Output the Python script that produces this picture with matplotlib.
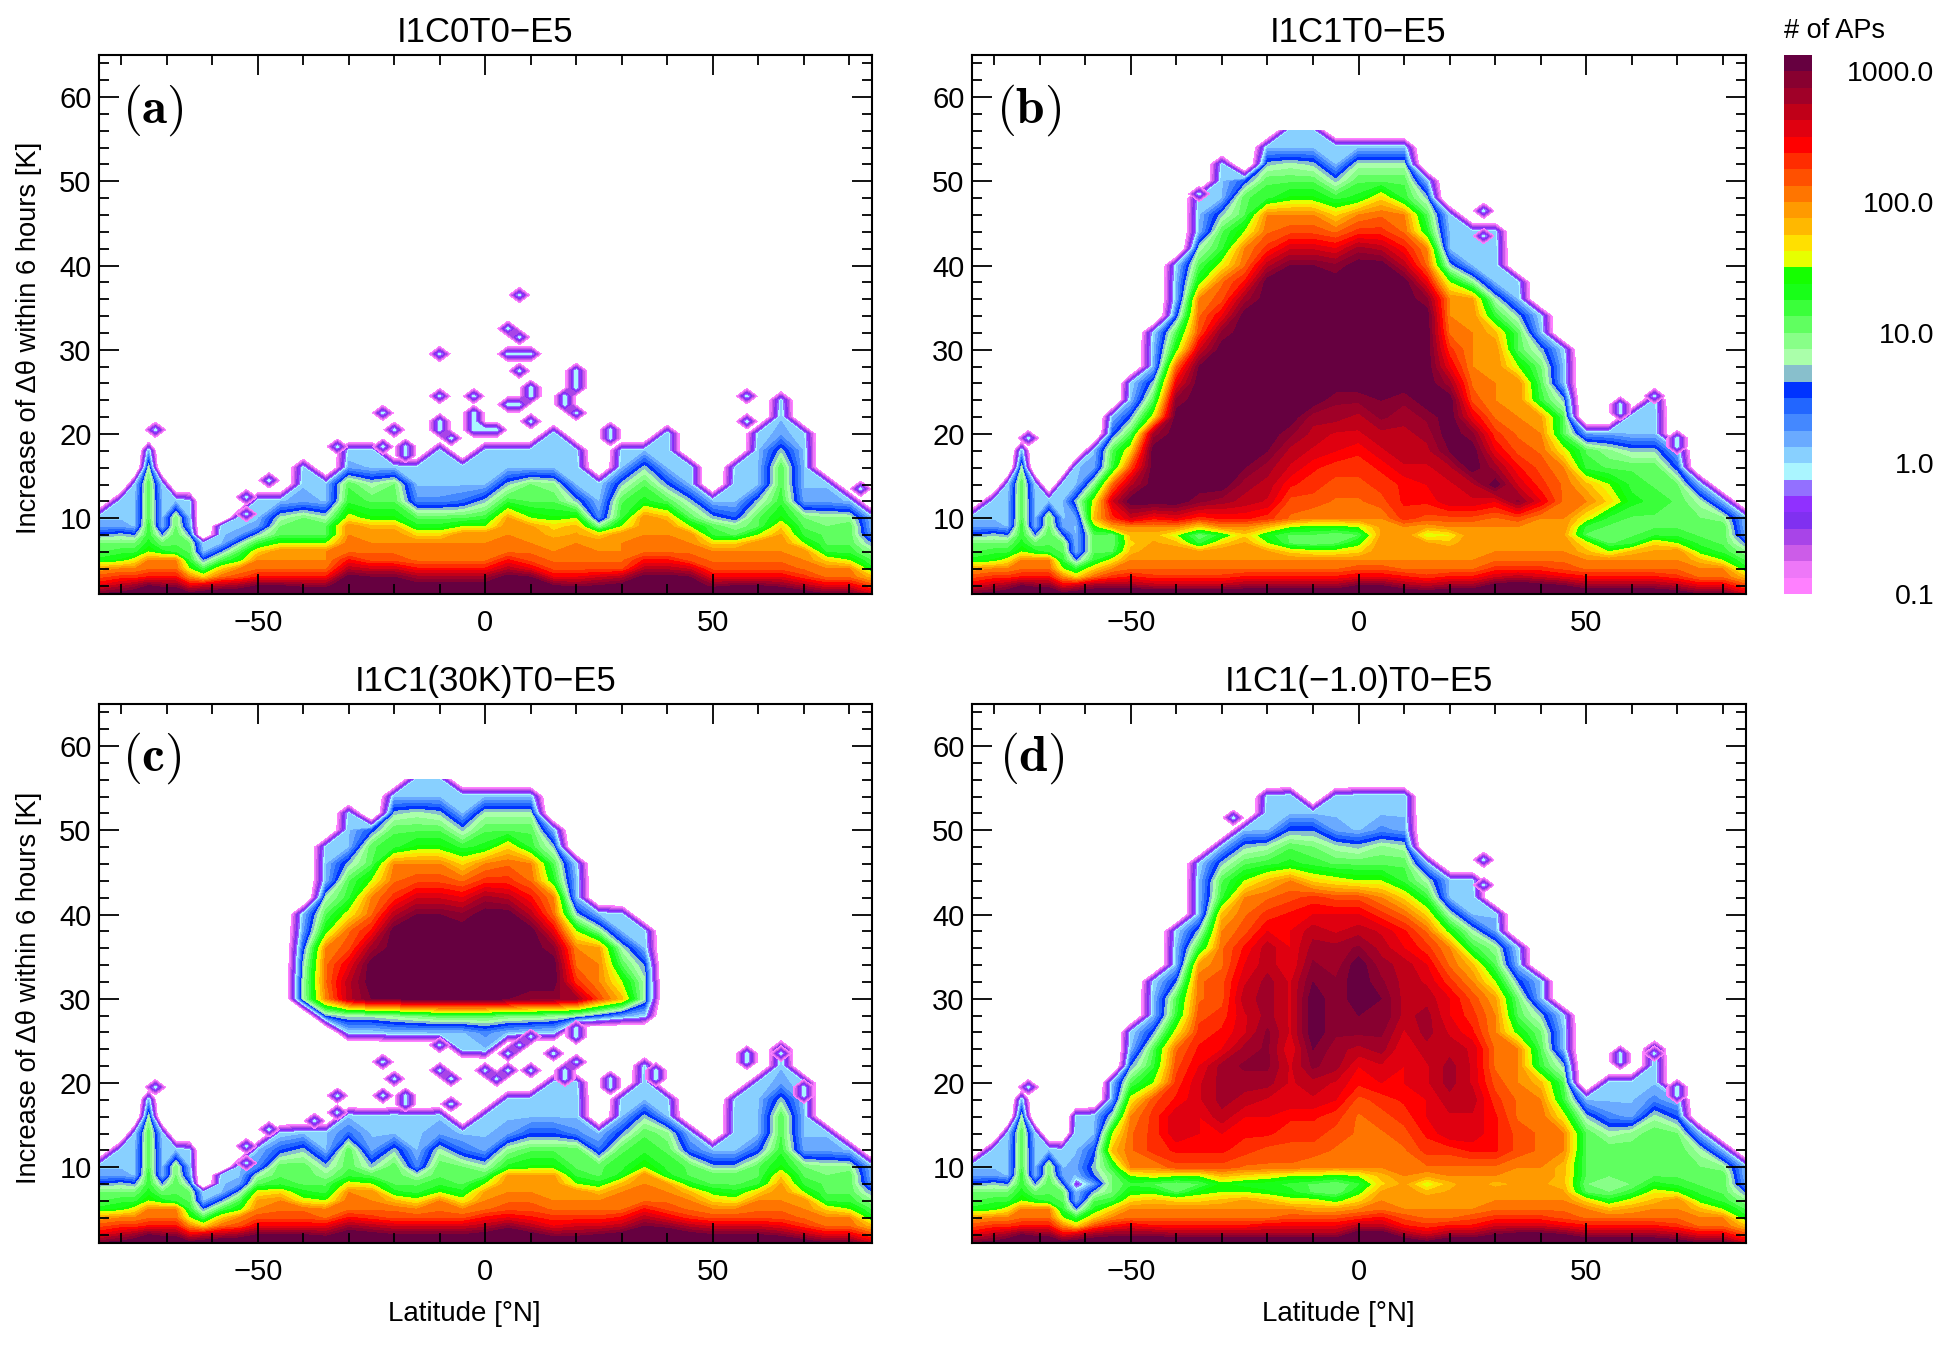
#!/usr/bin/env python
import matplotlib
matplotlib.use("Agg")
import matplotlib.pyplot as plt
import numpy as np

plt.rcParams["font.family"] = ["Liberation Sans", "DejaVu Sans"]
plt.rcParams["mathtext.fontset"] = "cm"

# grid of the tables below: one list per latitude, values in 10*log10(# of APs), bottom to top
LAT = [-85, -80, -77, -74, -71, -68, -65, -62, -58, -54, -50, -45, -40, -35, -30, -25, -20, -15, -10, -5,
       0, 5, 10, 15, 20, 25, 30, 35, 40, 45, 50, 55, 60, 65, 70, 75, 80, 85]
DTH = [1, 2, 3, 4, 5, 6, 7, 8, 9, 10, 12, 14, 16, 18, 20, 22, 24, 26, 28, 30, 32, 34, 36, 38, 40, 42, 44,
       46, 48, 50, 52, 54, 56]
E = -20  # nothing counted

COLS_A = [
    [30, 25, 22, 19, 13, 11, 10, 6, 2, 1],
    [31, 27, 23, 20, 14, 12, 10, 7, 2, 1, 1],
    [32, 28, 23, 20, 16, 12, 10, 6, 1, 1, 1, 0],
    [34, 30, 24, 21, 20, 15, 13, 12, 12, 11, 11, 11, 8, 1],
    [34, 29, 24, 21, 20, 13, 10, 6, 1, 1, 1, 0],
    [33, 29, 24, 21, 20, 12, 11, 11, 10, 10, 1],
    [31, 25, 20, 15, 12, 11, 10, 6, 2, 1, 0],
    [32, 26, 17, 11, 6, 1, 0],
    [33, 27, 21, 17, 11, 6, 1, 1, 0],
    [33, 28, 22, 20, 14, 11, 7, 2, 1, 1],
    [34, 30, 24, 21, 20, 17, 12, 7, 2, 1, 1],
    [34, 30, 24, 21, 20, 20, 15, 11, 10, 8, 1],
    [34, 29, 24, 21, 20, 20, 15, 11, 11, 10, 2, 1, 0],
    [34, 29, 24, 21, 20, 20, 15, 11, 11, 8, 1, 1],
    [36, 33, 31, 27, 24, 21, 21, 20, 20, 16, 12, 11, 2, 0],
    [36, 32, 30, 26, 22, 21, 20, 20, 18, 14, 11, 8, 1, 1],
    [36, 32, 30, 26, 22, 21, 20, 20, 18, 14, 11, 10, 1],
    [35, 31, 28, 24, 21, 21, 20, 17, 13, 11, 3, 1, 0],
    [35, 31, 28, 24, 21, 21, 20, 17, 13, 11, 3, 1, 1, 0],
    [35, 31, 28, 24, 21, 21, 20, 20, 15, 11, 4, 1, 1],
    [35, 31, 28, 24, 21, 21, 20, 20, 15, 12, 7, 1, 1, 0],
    [37, 33, 31, 27, 24, 21, 21, 20, 20, 19, 12, 7, 1, 1],
    [36, 32, 30, 25, 22, 21, 20, 20, 19, 15, 11, 10, 1, 1],
    [34, 30, 25, 22, 21, 20, 20, 18, 17, 14, 11, 9, 1, 1, 1],
    [35, 29, 25, 22, 21, 21, 20, 19, 18, 15, 7, 1, 1, 0],
    [35, 30, 26, 22, 21, 20, 20, 17, 9, 3, 1, 0],
    [35, 31, 27, 22, 21, 20, 20, 20, 15, 12, 11, 7, 1, 0],
    [36, 33, 31, 27, 24, 21, 21, 20, 20, 20, 13, 11, 7, 1],
    [37, 33, 31, 27, 24, 21, 21, 20, 20, 18, 11, 6, 1, 1, 1],
    [36, 32, 30, 26, 22, 21, 20, 20, 15, 11, 7, 1, 1],
    [34, 29, 25, 22, 21, 20, 17, 12, 11, 7, 1],
    [34, 30, 25, 22, 21, 20, 17, 11, 9, 5, 1, 1, 0],
    [34, 30, 25, 22, 21, 20, 20, 15, 11, 11, 7, 1, 1, 1, 0],
    [34, 29, 25, 22, 21, 20, 20, 19, 17, 14, 12, 11, 11, 7, 2, 1, 0],
    [32, 27, 23, 21, 20, 20, 15, 12, 11, 10, 2, 1, 1, 1, 0],
    [30, 25, 21, 20, 17, 12, 11, 11, 10, 9, 2, 1],
    [30, 25, 21, 20, 15, 12, 11, 11, 11, 9, 1],
    [26, 22, 18, 13, 11, 9, 6, 2, 1, 1],
]

COLS_B = COLS_A[:6] + [
    [31, 25, 20, 15, 12, 11, 10, 6, 2, 1, 1, 0],
    [32, 26, 17, 12, 6, 1, 1, 1, 1, 2, 7, 1, 1],
    [33, 28, 21, 17, 12, 11, 11, 11, 14, 18, 16, 9, 2, 1],
    [33, 28, 23, 20, 16, 11, 10, 10, 19, 23, 26, 21, 12, 11, 5, 1],
    [34, 28, 24, 21, 20, 18, 17, 18, 20, 26, 31, 27, 22, 17, 11, 6, 1, 0],
    [33, 27, 23, 21, 20, 20, 19, 18, 20, 24] + [31] * 4 + [28, 16, 11, 7, 1, 1, 0],
    [33, 27, 23, 21, 20, 20, 18, 15, 20, 25] + [31] * 6 + [29, 25, 21, 14, 11, 5, 1, 1, 0],
    [33, 27, 23, 21, 20, 19, 12, 10, 17, 23, 29] + [31] * 7 + [30, 26, 22, 21, 20, 14, 11, 8, 1, 1, 0],
    [33, 27, 23, 21, 20, 20, 17, 13, 20, 24, 28] + [31] * 9 + [29, 25, 22, 21, 16, 12, 11, 7, 1, 1, 0],
    [33, 28, 24, 21, 20, 20, 19, 17, 20, 24, 27, 28, 30] + [31] * 9 + [28, 24, 21, 20, 15, 11, 11, 5],
    [33, 28, 24, 21, 20, 19, 15, 13, 18, 23, 26, 27, 28, 30] + [31] * 10 + [27, 23, 21, 20, 12, 11, 7, 1],
    [33, 28, 24, 21, 20, 17, 11, 11, 15, 21, 22, 24, 26, 27, 29] + [31] * 9 + [30, 26, 22, 20, 14, 11, 8, 1, 1],
    [33, 28, 24, 21, 20, 16, 10, 11, 14, 20, 22, 23, 24, 26, 27, 28] + [31] * 8 + [30, 26, 22, 20, 14, 11, 7, 1, 0],
    [33, 28, 24, 21, 20, 16, 11, 10, 14, 20, 21, 22, 23, 25, 26, 28, 29] + [31] * 7 + [29, 25, 21, 17, 12, 7, 1, 1],
    [36, 30, 25, 22, 20, 17, 14, 11, 15, 20, 21, 22, 23, 24, 26, 27, 29] + [31] * 8 + [28, 23, 20, 13, 11, 8, 1],
    [35, 30, 25, 22, 20, 20, 20, 19, 19, 20, 22, 23, 24, 26, 27, 29, 30] + [31] * 8 + [27, 23, 21, 17, 11, 8, 1],
    [33, 28, 24, 21, 20, 20, 20, 20, 20, 23, 24, 24, 26, 27, 27, 28, 29] + [31] * 7 + [27, 24, 21, 20, 12, 11, 8, 1],
    [32, 27, 23, 21, 20, 20, 19, 15, 19, 22, 24, 25, 26, 27, 28, 29] + [31] * 6 + [29, 25, 21, 20, 13, 11, 7, 1],
    [33, 28, 24, 21, 20, 20, 18, 16, 20, 22, 26, 26, 27, 30, 31, 31, 31, 28, 25, 23, 21, 20, 20, 15, 7, 1, 1, 0],
    [33, 28, 24, 21, 20, 20, 20, 20, 20, 22, 26, 27, 31, 31, 29, 25, 22, 21, 20, 20, 20, 20, 19, 9, 1, 1, 0],
    [35, 31, 26, 23, 21, 20, 20, 20, 20, 21, 25, 31, 28, 25, 23, 21, 20, 20, 20, 20, 18, 12, 8, 1, 1, 1, 0],
    [36, 32, 27, 23, 21, 20, 20, 20, 20, 22, 29, 26, 24, 22, 21, 20, 20, 20, 15, 11, 11, 7, 1, 0],
    [35, 31, 26, 23, 21, 20, 20, 20, 20, 20, 25, 23, 22, 21, 20, 19, 12, 11, 10, 7, 1, 0],
    [34, 30, 25, 22, 21, 20, 20, 19, 20, 20, 21, 21, 20, 16, 11, 11, 7, 1, 1, 0],
    [33, 28, 24, 21, 20, 18, 16, 11, 12, 16, 20, 18, 12, 11, 2],
    [33, 28, 24, 21, 20, 15, 11, 11, 11, 12, 17, 15, 11, 9, 2],
    [33, 28, 24, 21, 20, 18, 12, 11, 11, 11, 13, 12, 11, 7, 1, 1],
    [33, 28, 24, 21, 20, 19, 17, 12, 11, 11, 12, 11, 11, 7, 1, 1, 0],
    [32, 27, 23, 21, 20, 20, 15, 12, 11, 11, 11, 10, 5, 1],
    [30, 25, 21, 20, 18, 14, 12, 11, 11, 10, 8, 1],
] + COLS_A[-2:]

COLS_C_LOW = COLS_A[:10] + [
    [34, 30, 25, 22, 20, 19, 16, 11, 8, 3, 1],
    [34, 30, 25, 22, 21, 20, 17, 12, 11, 11, 5, 0],
    [34, 30, 25, 22, 21, 16, 13, 11, 11, 11, 7, 1],
    [34, 29, 25, 21, 20, 15, 12, 11, 9, 7, 1, 1],
    [36, 32, 28, 24, 21, 21, 20, 16, 12, 11, 11, 4, 1],
    [35, 31, 27, 23, 21, 20, 20, 15, 11, 7, 2, 1, 0],
    [35, 30, 26, 22, 21, 18, 13, 11, 11, 11, 7, 1, 1],
    [34, 30, 26, 22, 20, 16, 12, 11, 8, 3, 1, 1, 0],
    [34, 30, 26, 22, 21, 20, 15, 12, 11, 11, 8, 2, 1],
    [34, 30, 26, 22, 20, 16, 13, 11, 11, 10, 4, 1],
    [35, 31, 27, 24, 21, 20, 19, 15, 11, 8, 2, 1, 0],
    [37, 33, 29, 25, 22, 21, 20, 20, 19, 13, 9, 2, 1, 0],
    [35, 31, 27, 24, 22, 21, 20, 20, 19, 14, 11, 5, 1, 1],
    [33, 29, 25, 23, 21, 20, 20, 20, 19, 14, 11, 5, 1, 1, 0],
    [34, 29, 26, 23, 21, 20, 20, 15, 12, 11, 11, 3, 1, 1, 0],
    [35, 30, 26, 23, 21, 20, 18, 13, 11, 11, 4, 1],
    [35, 31, 27, 24, 21, 21, 20, 18, 13, 12, 11, 6, 1, 0],
    [37, 33, 30, 27, 24, 21, 21, 20, 20, 15, 12, 11, 7, 1, 1, 0],
    [36, 33, 29, 25, 22, 21, 20, 19, 13, 12, 11, 9, 1, 0],
    [35, 31, 27, 23, 21, 20, 18, 13, 11, 11, 4, 1],
    [34, 30, 26, 22, 20, 17, 14, 11, 11, 7, 1],
    [34, 30, 26, 22, 20, 16, 13, 11, 11, 7, 1, 1, 1, 0],
    [34, 30, 26, 22, 21, 20, 17, 12, 11, 11, 5, 1, 1, 1, 0],
] + COLS_A[-5:]

# the isolated upper cell of panel (c), rows from 24 K upward
C_UP_LAT = [-40, -35, -30, -25, -20, -15, -10, -5, 0, 5, 10, 15, 20, 25, 30, 35]
COLS_C_UP = [
    [E, E, E, 8, 8, 7, 5, 2, 1],
    [E, E, 6, 20, 21, 21, 20, 14, 11, 8, 1, 1, 0],
    [E, 0, 8, 27, 27, 25, 22, 21, 16, 12, 11, 7, 1, 1, 0],
    [E, 0, 8, 30, 31, 31, 28, 24, 21, 20, 15, 11, 11, 5],
    [E, 1, 9, 30, 31, 31, 31, 31, 27, 23, 21, 20, 12, 11, 7, 1],
    [E, 1, 10, 31, 31, 31, 31, 31, 30, 26, 22, 20, 14, 11, 8, 1, 1],
    [E, 1, 11, 31, 31, 31, 31, 31, 30, 26, 22, 20, 14, 11, 7, 1, 0],
    [0, 1, 11, 31, 31, 31, 31, 31, 29, 25, 21, 17, 12, 7, 1, 1],
    [1, 3, 11, 31, 31, 31, 31, 31, 31, 28, 23, 20, 13, 11, 8, 1],
    [E, 1, 10, 30, 31, 31, 31, 31, 31, 27, 23, 21, 17, 11, 8, 1],
    [E, 0, 10, 29, 31, 31, 31, 31, 27, 24, 21, 20, 12, 11, 8, 1],
    [E, 0, 9, 29, 31, 31, 29, 25, 21, 20, 13, 11, 7, 1],
    [E, E, 8, 28, 23, 21, 20, 15, 7, 1, 1, 0],
    [E, E, 5, 22, 20, 20, 19, 9, 1],
    [E, E, 2, 18, 15, 11, 8, 1, 0],
    [E, E, 0, 8, 8, 6, 1, 0],
]

COLS_D = COLS_A[:7] + [
    [32, 26, 17, 12, 6, 1, 1, -4, 1, 2, 1, 1, 0],
    [33, 28, 22, 17, 13, 11, 7, 2, 6, 7, 5, 1, 1],
    [33, 29, 24, 20, 17, 12, 10, 10, 10, 12, 18, 15, 8, 2, 1],
    [34, 29, 25, 21, 20, 17, 14, 12, 15, 20, 21, 21, 20, 16, 11, 6, 1, 0],
    [34, 29, 24, 21, 20, 18, 14, 11, 16, 20, 23, 23, 23, 22, 15, 12, 11, 6, 1, 1, 0],
    [33, 28, 24, 21, 20, 17, 11, 10, 15, 22, 24, 26, 26, 24, 23, 22, 21, 16, 12, 11, 6, 1, 1, 0],
    [33, 28, 24, 21, 20, 17, 14, 11, 15, 22, 24, 25, 25, 26, 26, 25, 24, 23, 22, 21, 21, 19, 12, 7, 1, 1, 1, 0],
    [33, 28, 24, 21, 20, 18, 15, 14, 18, 22, 24, 25, 27, 28, 28, 28, 25, 24, 23, 22, 22, 21, 21, 20, 18, 12, 11, 7, 1],
    [33, 28, 24, 21, 20, 19, 15, 13, 17, 21, 23, 24, 25, 27, 28, 29, 28, 26, 26, 27, 26, 25, 24, 22, 21, 20, 15, 11, 7, 1],
    [33, 28, 25, 21, 20, 18, 14, 13, 16, 21, 22, 24, 25, 26, 28, 29, 29, 29, 28, 28, 28, 27, 27, 25, 23, 21, 18, 12, 8, 1, 1, 0],
    [33, 28, 25, 22, 20, 16, 13, 12, 15, 21, 22, 23, 24, 26, 26, 26, 25, 26, 26, 26, 26, 25, 25, 25, 24, 22, 20, 13, 11, 6, 1, 1],
    [33, 28, 25, 22, 19, 16, 11, 11, 15, 20, 22, 23, 24, 26, 27, 29, 30, 31, 31, 31, 30, 29, 28, 27, 25, 23, 17, 12, 10, 6, 1],
    [33, 28, 25, 22, 19, 14, 10, 10, 14, 20, 21, 22, 23, 25, 26, 28, 28, 29, 29, 29, 29, 28, 28, 26, 25, 22, 16, 11, 8, 2, 1, 0],
    [36, 32, 27, 23, 20, 17, 14, 12, 15, 20, 21, 21, 21, 22, 24, 25, 27, 29, 30, 31, 31, 31, 29, 27, 25, 22, 15, 11, 7, 1, 1, 1],
    [36, 32, 27, 24, 21, 20, 19, 17, 18, 20, 21, 21, 22, 23, 25, 26, 28, 29, 30, 30, 29, 28, 27, 26, 23, 20, 15, 11, 9, 3, 1, 1],
    [33, 28, 24, 22, 20, 20, 20, 19, 20, 21, 21, 22, 23, 24, 25, 25, 25, 26, 27, 27, 27, 27, 25, 24, 21, 17, 12, 11, 8, 2, 1, 1],
    [31, 26, 23, 21, 20, 20, 18, 15, 19, 21, 23, 24, 25, 25, 26, 26, 27, 28, 28, 27, 26, 25, 23, 21, 17, 12, 8, 1],
    [33, 28, 24, 21, 20, 20, 19, 18, 20, 21, 23, 26, 26, 27, 28, 28, 27, 26, 25, 25, 23, 21, 20, 14, 8, 1, 1],
    [33, 28, 24, 22, 20, 20, 20, 20, 20, 21, 24, 26, 26, 27, 26, 26, 26, 24, 23, 22, 20, 18, 12, 8, 1, 1, 0],
    [34, 30, 26, 23, 21, 20, 20, 18, 20, 21, 24, 24, 24, 23, 22, 21, 21, 20, 20, 19, 15, 11, 9, 2, 1],
    [35, 31, 26, 23, 21, 20, 20, 19, 20, 20, 22, 22, 21, 21, 20, 20, 20, 14, 11, 10, 6, 1, 0],
    [35, 31, 26, 23, 21, 20, 20, 19, 20, 20, 21, 21, 21, 20, 18, 12, 11, 10, 7, 1, 1],
    [34, 30, 25, 22, 21, 20, 19, 18, 18, 18, 20, 20, 16, 12, 11, 7, 1, 1, 0],
    [33, 28, 24, 21, 20, 17, 11, 10, 11, 11, 11, 11, 7, 1],
    [33, 28, 24, 21, 18, 13, 10, 10, 10, 11, 11, 8, 3, 1, 0],
    [33, 28, 24, 21, 19, 16, 12, 10, 11, 11, 11, 9, 2, 1, 0],
    [33, 28, 24, 21, 20, 18, 16, 13, 11, 11, 11, 11, 8, 3, 1, 1, 0],
    [32, 27, 23, 21, 20, 20, 15, 12, 11, 11, 11, 10, 5, 1],
    [30, 25, 21, 20, 18, 14, 12, 11, 11, 10, 8, 1],
] + COLS_A[-2:]

# single isolated cells (1 AP) above the main body
SPECK_A_LAT = [-72.5, -52.5, -52.5, -47.5, -32.5, -22.5, -22.5, -20, -17.5, -17.5, -10, -10, -10, -10, -7.5, -2.5,
               -2.5, -2.5, -2.5, 0, 2.5, 5, 7.5, 7.5, 5, 7.5, 10, 7.5, 7.5, 10, 5, 10, 10, 20, 20, 20, 17.5, 17.5,
               20, 27.5, 27.5, 57.5, 57.5, 82.5]
SPECK_A_K = [20.5, 12.5, 10.5, 14.5, 18.5, 18.5, 22.5, 20.5, 17.5, 18.5, 29.5, 24.5, 21.5, 20.5, 19.5, 24.5,
             22.5, 21.5, 20.5, 20.5, 20.5, 32.5, 36.5, 31.5, 29.5, 29.5, 29.5, 27.5, 23.5, 25.5, 23.5, 24.5, 21.5,
             27.5, 26.5, 25.5, 24.5, 23.5, 22.5, 20.5, 19.5, 24.5, 21.5, 13.5]
SPECK_B_LAT = [-72.5, -35, 27.5, 27.5, 70, 70, 57.5, 57.5, 65]
SPECK_B_K = [19.5, 48.5, 46.5, 43.5, 19.5, 18.5, 23.5, 22.5, 24.5]
SPECK_C_LAT = [-72.5, -52.5, -52.5, -47.5, -37.5, -32.5, -32.5, -22.5, -20, -22.5, -17.5, -17.5, -7.5, -10, -10, -7.5,
               0, 2.5, 5, 5, 7.5, 10, 10, 15, 17.5, 17.5, 20, 20, 20, 27.5, 27.5, 37.5, 37.5, 57.5, 57.5, 65, 70, 70]
SPECK_C_K = [19.5, 12.5, 10.5, 14.5, 15.5, 18.5, 16.5, 22.5, 20.5, 18.5, 17.5, 18.5, 17.5, 24.5, 21.5, 20.5,
             21.5, 20.5, 21.5, 23.5, 24.5, 25.5, 21.5, 23.5, 20.5, 21.5, 22.5, 26.5, 25.5, 20.5, 19.5, 21.5, 20.5,
             23.5, 22.5, 23.5, 19.5, 18.5]
SPECK_D_LAT = [-72.5, -27.5, 27.5, 27.5, 70, 70, 57.5, 57.5, 65]
SPECK_D_K = [19.5, 51.5, 46.5, 43.5, 19.5, 18.5, 23.5, 22.5, 23.5]

TITLES = ["I1C0T0\u2212E5", "I1C1T0\u2212E5", "I1C1(30K)T0\u2212E5", "I1C1(\u22121.0)T0\u2212E5"]
LETTERS = ["a", "b", "c", "d"]

COLORS = ["#ff80ff", "#ee77f8", "#cc5ce8", "#a844e8", "#8030f0", "#9030ff", "#9370ff", "#aaf5ff",
          "#88d0ff", "#6aaaff", "#4488ff", "#2266ff", "#0033ff", "#88bfcc", "#aaffaa", "#88ff88",
          "#60ff60", "#3aff3a", "#18ff18", "#15ff00", "#e6ff00", "#ffe000", "#ffb800", "#ff9a00",
          "#ff7500", "#ff5000", "#ff2c00", "#ff0000", "#e00010", "#c00018", "#a00028", "#880030", "#660040"]
LEVELS = [-10 + 1.25 * i for i in range(33)] + [45]
CB_TICKS = [-10, 0, 10, 20, 30]
CB_LABELS = ["0.1", "1.0", "10.0", "100.0", "1000.0"]

W, H = 1951, 1346


def to_grid(cols, first=0):
    z = np.full((len(DTH), len(LAT)), float(E))
    for j, c in enumerate(cols):
        z[first:first + len(c), j] = c
    return z


def speck_grid(lats, ks):
    glat = np.arange(-85, 85.1, 2.5)
    gk = np.arange(0.5, 65, 1.0)
    z = np.full((len(gk), len(glat)), -11.0)
    for la, k in zip(lats, ks):
        z[np.argmin(abs(gk - k)), np.argmin(abs(glat - la))] = 0
    return glat, gk, z


def px_axes(x0, y0, x1, y1):
    return fig.add_axes([x0 / W, 1 - y1 / H, (x1 - x0) / W, (y1 - y0) / H])


z_c = to_grid(COLS_C_LOW)
z_up = np.full(z_c.shape, float(E))
for la, col in zip(C_UP_LAT, COLS_C_UP):
    z_up[16:16 + len(col), LAT.index(la)] = col
z_c = np.maximum(z_c, z_up)

fields = [to_grid(COLS_A), to_grid(COLS_B), z_c, to_grid(COLS_D)]
specks = [(SPECK_A_LAT, SPECK_A_K), (SPECK_B_LAT, SPECK_B_K), (SPECK_C_LAT, SPECK_C_K), (SPECK_D_LAT, SPECK_D_K)]
boxes = [(98.5, 55, 872, 594), (971.5, 55, 1745.5, 594), (98.5, 704, 872, 1243), (971.5, 704, 1745.5, 1243)]
letter_pos = [(153, 110), (1029, 110), (152, 758), (1032, 758)]
xlabel_x = [None, None, 464, 1338]

fig = plt.figure(figsize=(W / 100, H / 100), dpi=100)

for i in range(4):
    ax = px_axes(*boxes[i])
    cs = ax.contourf(LAT, DTH, fields[i], levels=LEVELS, colors=COLORS)
    glat, gk, zs = speck_grid(*specks[i])
    ax.contourf(glat, gk, zs, levels=LEVELS, colors=COLORS)
    ax.set_xlim(-85, 85)
    ax.set_ylim(1, 65)
    ax.set_xticks([-50, 0, 50])
    ax.set_xticks(np.arange(-80, 81, 10), minor=True)
    ax.set_yticks(np.arange(10, 61, 10))
    ax.set_yticks(np.arange(2, 65, 2), minor=True)
    ax.tick_params(which="both", direction="in", top=True, right=True, width=1.3)
    ax.tick_params(which="major", length=14.5, labelsize=21, pad=5)
    ax.tick_params(which="minor", length=7.2)
    ax.tick_params(axis="x", which="major", pad=11)
    for s in ax.spines.values():
        s.set_linewidth(1.5)
    ax.set_title(TITLES[i], fontsize=25, pad=9)
    fig.text(letter_pos[i][0] / W, 1 - letter_pos[i][1] / H, r"$\mathbf{(%s)}$" % LETTERS[i],
             fontsize=37, ha="center", va="center")
    if i in (0, 2):
        yc = 338 if i == 0 else 988
        fig.text(29 / W, 1 - yc / H, "Increase of \u0394\u03b8 within 6 hours [K]", rotation=90,
                 fontsize=19.7, ha="center", va="center")
    if i >= 2:
        fig.text(xlabel_x[i] / W, 1 - 1314 / H, "Latitude [\u00b0N]", fontsize=20,
                 ha="center", va="center")

cax = px_axes(1784, 55, 1812, 594)
cb = fig.colorbar(cs, cax=cax, spacing="uniform")
cb.outline.set_visible(False)
cb.set_ticks(CB_TICKS, labels=CB_LABELS)
cax.tick_params(length=0, labelsize=20.5, pad=88)
for t in cax.get_yticklabels():
    t.set_horizontalalignment("right")
fig.text(1784 / W, 1 - 31 / H, "# of APs", fontsize=19.5, ha="left", va="center")

plt.savefig("out.png", dpi=100)
plt.close()
